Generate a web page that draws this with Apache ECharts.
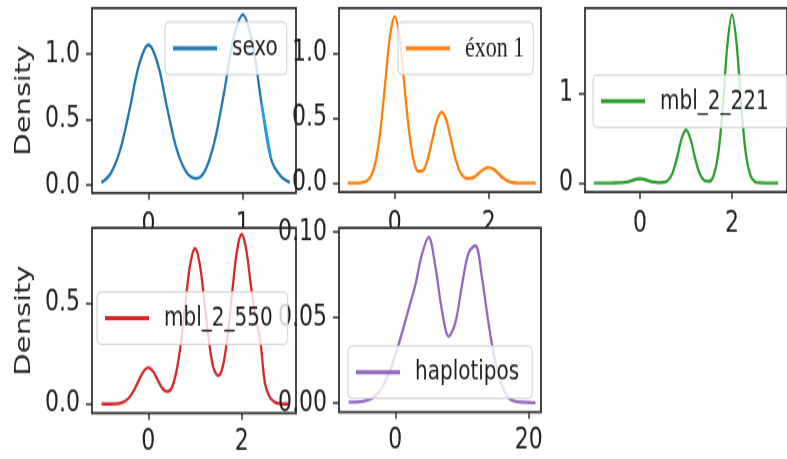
<!DOCTYPE html>
<html><head><meta charset="utf-8">
<script src="https://cdn.jsdelivr.net/npm/echarts@6/dist/echarts.min.js"></script>
<style>
html,body{margin:0;padding:0;background:#fff;overflow:hidden}
#wrap{width:787px;height:459px;overflow:hidden;position:relative;background:#fff}
#chart{width:787px;transform-origin:0 0;}
</style></head><body><div id="wrap"><div id="chart"></div></div>
<script>
// ---- data ----
const seriesNames = ['sexo', 'éxon 1', 'mbl_2_221', 'mbl_2_550', 'haplotipos'];

const sexoX = [-0.5,-0.4,-0.3,-0.2,-0.1,0,0.1,0.2,0.3,0.4,0.5,0.6,0.7,0.8,0.9,1.0,1.1,1.2,1.3,1.4,1.5];
const sexoY = [0.02,0.09,0.27,0.58,0.92,1.07,0.92,0.58,0.27,0.10,0.05,0.11,0.33,0.70,1.11,1.30,1.09,0.62,0.20,0.07,0.02];
// short light-blue retouch visible on the right flank of the sexo curve
const sexoRetouchX = [1.2, 1.3];
const sexoRetouchY = [0.62, 0.20];

const exonX = [-1.0,-0.9,-0.8,-0.7,-0.6,-0.5,-0.4,-0.3,-0.2,-0.1,0,0.1,0.2,0.3,0.4,0.5,0.6,0.7,0.8,0.9,1.0,1.1,1.2,1.3,1.4,1.5,1.6,1.7,1.8,1.9,2.0,2.1,2.2,2.3,2.4,2.5,2.6,2.7,2.8,2.9,3.0];
const exonY = [0,0,0,0.003,0.014,0.056,0.173,0.416,0.776,1.13,1.28,1.13,0.776,0.417,0.18,0.09,0.095,0.18,0.331,0.481,0.545,0.481,0.331,0.177,0.08,0.04,0.035,0.048,0.08,0.108,0.12,0.106,0.075,0.04,0.016,0.005,0.001,0,0,0,0];

const mbl221X = [-1.0,-0.9,-0.8,-0.7,-0.6,-0.5,-0.4,-0.3,-0.2,-0.1,0,0.1,0.2,0.3,0.4,0.5,0.6,0.7,0.8,0.9,1.0,1.1,1.2,1.3,1.4,1.5,1.6,1.7,1.8,1.9,2.0,2.1,2.2,2.3,2.4,2.5,2.6,2.7,2.8,2.9,3.0];
const mbl221Y = [0,0,0,0,0.001,0.002,0.004,0.010,0.024,0.040,0.048,0.040,0.024,0.010,0.005,0.007,0.026,0.101,0.270,0.486,0.59,0.486,0.270,0.101,0.028,0.019,0.083,0.322,0.856,1.539,1.87,1.539,0.856,0.322,0.082,0.014,0.002,0,0,0,0];

const mbl550X = [-1.0,-0.9,-0.8,-0.7,-0.6,-0.5,-0.4,-0.3,-0.2,-0.1,0,0.1,0.2,0.3,0.4,0.5,0.6,0.7,0.8,0.9,1.0,1.1,1.2,1.3,1.4,1.5,1.6,1.7,1.8,1.9,2.0,2.1,2.2,2.3,2.4,2.5,2.6,2.7,2.8,2.9,3.0];
const mbl550Y = [0,0,0,0.001,0.004,0.014,0.034,0.071,0.119,0.162,0.18,0.162,0.12,0.078,0.062,0.08,0.16,0.305,0.51,0.695,0.77,0.695,0.511,0.31,0.175,0.14,0.19,0.345,0.56,0.76,0.84,0.76,0.58,0.43,0.31,0.10,0.035,0.01,0.002,0,0];

const haploX = [-7,-6,-5,-4,-3,-2,-1,0,1,2,3,4,5,6,7,8,9,10,11,12,13,14,15,16,17,18,19,20,21];
const haploY = [0.0005,0.0006,0.001,0.002,0.004,0.009,0.017,0.028,0.041,0.055,0.069,0.087,0.097,0.080,0.054,0.039,0.047,0.069,0.088,0.092,0.073,0.046,0.024,0.010,0.003,0.001,0.0005,0.0003,0.0002];

const xTicks = [[0,1],[0,2],[0,2],[0,2],[0,20]];
const yTicks = [[0,0.5,1.0],[0,0.5,1.0],[0,1],[0,0.5],[0,0.05,0.10]];
const yDecimals = [1,1,0,1,2];

// ---- layout / styling ----
const K = 1.38;               // vertical stretch of the reference picture
const sy = v => v / K;
const colors = ['#1f77b4','#ff7f0e','#2ca02c','#d62728','#9467bd'];
const XS = [sexoX, exonX, mbl221X, mbl550X, haploX];
const YS = [sexoY, exonY, mbl221Y, mbl550Y, haploY];
// plot rectangles in picture pixels: left, top, right, bottom
const rects = [[92,8,296,193],[339,8,541,192],[585,8,792,192],[92,228,296,413],[339,228,541,412]];
const xRanges = [[-0.6,1.565],[-1.185,3.113],[-1.193,3.193],[-1.206,3.163],[-8.44,21.84]];
const yRanges = [[-0.061,1.351],[-0.069,1.346],[-0.1,1.944],[-0.0446,0.871],[-0.00526,0.1023]];
const legendPos = [[165,22],[398,22],[593,75],[97,292],[348,346]];
const legendRightPad = [9, 9, 21, 15, 13];

const el = document.getElementById('chart');
el.style.height = (459 / K) + 'px';
el.style.transform = 'scaleY(' + K + ')';
const chart = echarts.init(el, null, {renderer: 'canvas'});

const FONT = 'DejaVu Sans';
const grids = [], xAxes = [], yAxes = [], series = [], legends = [], graphics = [];
for (let i = 0; i < 5; i++) {
  const [l, t, r, b] = rects[i];
  const bottomRow = i >= 3;
  grids.push({left: l, top: sy(t), width: r - l, height: sy(b - t),
    show: !bottomRow, borderColor: '#333', borderWidth: 1.8, backgroundColor: 'transparent'});
  if (bottomRow) {
    graphics.push({type: 'rect', silent: true, z: 1,
      shape: {x: l, y: sy(t), width: r - l, height: sy(b - t)},
      style: {fill: '#fff', stroke: '#333', lineWidth: 1.8}});
  }
  xAxes.push({gridIndex: i, type: 'value', position: 'bottom', min: xRanges[i][0], max: xRanges[i][1],
    axisLine: {show: false, onZero: false}, splitLine: {show: false},
    axisTick: {show: true, length: 5, customValues: xTicks[i], lineStyle: {color: '#333', width: 1.5}},
    axisLabel: {customValues: xTicks[i], fontSize: 22, fontFamily: FONT, color: '#222',
      margin: bottomRow ? 10 : 12, formatter: v => String(v)}});
  const ya = {gridIndex: i, type: 'value', position: 'left', min: yRanges[i][0], max: yRanges[i][1],
    axisLine: {show: false, onZero: false}, splitLine: {show: false},
    axisTick: {show: true, length: 6, customValues: yTicks[i], lineStyle: {color: '#333', width: 1.5}},
    axisLabel: {customValues: yTicks[i], fontSize: 22, fontFamily: FONT, color: '#222', margin: 12,
      formatter: v => Number(v).toFixed(yDecimals[i])}};
  if (i === 0 || i === 3) {
    ya.name = 'Density'; ya.nameLocation = 'middle'; ya.nameGap = 57;
    ya.nameTextStyle = {fontSize: 21, fontFamily: FONT, color: '#222'};
  }
  if (i === 4) ya.z = 3;
  yAxes.push(ya);
  series.push({type: 'line', name: seriesNames[i], xAxisIndex: i, yAxisIndex: i,
    data: XS[i].map((x, j) => [x, YS[i][j]]), showSymbol: false, symbol: 'none',
    smooth: 0.35, lineStyle: {color: colors[i], width: 2.3}, itemStyle: {color: colors[i]}, z: 2});
  legends.push({data: [seriesNames[i]], left: legendPos[i][0], top: sy(legendPos[i][1]),
    icon: 'rect', itemWidth: 44, itemHeight: 3, padding: [6, legendRightPad[i], 6, 8],
    backgroundColor: 'rgba(255,255,255,0.8)', borderColor: '#d0d0d0', borderWidth: 1, borderRadius: 4,
    selectedMode: false,
    textStyle: {fontSize: i === 1 ? 22 : 20, fontFamily: i === 1 ? 'Liberation Serif' : FONT,
      color: '#222', lineHeight: 26, padding: [0, 0, 0, 10]}});
}
series.push({type: 'line', name: 'sexo retouch', xAxisIndex: 0, yAxisIndex: 0,
  data: sexoRetouchX.map((x, j) => [x, sexoRetouchY[j]]), showSymbol: false, symbol: 'none',
  lineStyle: {color: '#1aa3e6', width: 2.3}, z: 3});

chart.setOption({
  animation: false,
  backgroundColor: '#fff',
  grid: grids, xAxis: xAxes, yAxis: yAxes, series: series, legend: legends,
  graphic: {elements: graphics}
});
</script></body></html>
